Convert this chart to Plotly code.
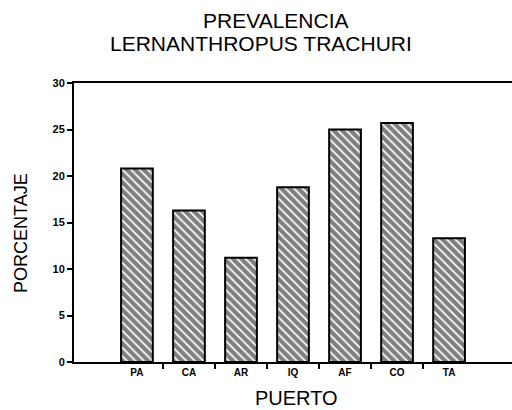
import plotly.graph_objects as go

# Prevalence (%) of Lernanthropus trachuri by port
puertos = ["PA", "CA", "AR", "IQ", "AF", "CO", "TA"]
prevalencia = [20.8, 16.3, 11.2, 18.8, 25.0, 25.7, 13.3]
y_ticks = [0, 5, 10, 15, 20, 25, 30]

W, H = 512, 410
L, R, T, B = 74, 0, 83, 48
pos = list(range(len(puertos)))


def px_x(x):
    return (x - L) / (W - L - R)


def px_y(y):
    return (H - B - y) / (H - T - B)


fig = go.Figure(
    go.Bar(
        x=pos,
        y=prevalencia,
        width=0.61,
        marker=dict(
            color="white",
            line=dict(color="black", width=2),
            pattern=dict(shape="\\", fgcolor="black", bgcolor="white",
                         size=6, solidity=0.7),
        ),
        hoverinfo="skip",
    )
)

fig.update_layout(
    width=W, height=H,
    margin=dict(l=L, r=R, t=T, b=B),
    paper_bgcolor="white", plot_bgcolor="white",
    showlegend=False,
    font=dict(family="Liberation Sans, Arial, sans-serif", color="black"),
)

fig.update_xaxes(
    range=[-1.21, 7.21],
    tickmode="array", tickvals=pos, ticktext=puertos,
    ticks="", showgrid=False, zeroline=False,
    showline=True, linecolor="black", linewidth=2, mirror=True,
    tickfont=dict(size=10, weight="bold"),
    minor=dict(tickmode="array", tickvals=[p + 0.5 for p in pos[:-1]],
               ticks="outside", ticklen=5, tickwidth=1.5, tickcolor="black",
               showgrid=False),
)

fig.update_yaxes(
    range=[0, 30],
    tickmode="array", tickvals=y_ticks,
    ticks="outside", ticklen=5, tickwidth=1.5, tickcolor="black",
    showgrid=False, zeroline=False,
    showline=True, linecolor="black", linewidth=2,
    tickfont=dict(size=11, weight="bold"),
)

annotations = [
    dict(text="PREVALENCIA", x=px_x(276), y=px_y(21), size=21),
    dict(text="LERNANTHROPUS TRACHURI", x=px_x(261), y=px_y(44), size=21),
    dict(text="PUERTO", x=px_x(296), y=px_y(398), size=20),
]
for a in annotations:
    fig.add_annotation(
        text=a["text"], x=a["x"], y=a["y"], xref="paper", yref="paper",
        xanchor="center", yanchor="middle", showarrow=False,
        font=dict(size=a["size"], color="black"),
    )

fig.add_annotation(
    text="PORCENTAJE", x=px_x(21), y=px_y(233), xref="paper", yref="paper",
    xanchor="center", yanchor="middle", showarrow=False, textangle=-90,
    font=dict(size=18, color="black"),
)

fig.write_html("out.html")
